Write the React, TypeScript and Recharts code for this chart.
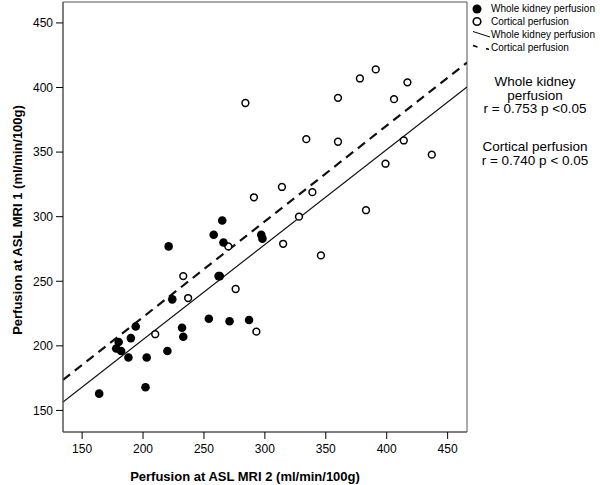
import React from 'react';
import { ScatterChart, Scatter, XAxis, YAxis, ReferenceLine, ReferenceArea } from 'recharts';

const wholeX = [164, 202, 188, 203, 220, 178, 182, 180, 190, 194, 233, 232, 254, 271, 287, 224, 262, 263, 221, 266, 258, 265, 297, 298];
const wholeY = [163, 168, 191, 191, 196, 198, 196, 203, 206, 215, 207, 214, 221, 219, 220, 236, 254, 254, 277, 280, 286, 297, 286, 283];

const cortX = [210, 293, 237, 276, 233, 270, 315, 346, 328, 383, 291, 314, 339, 334, 360, 399, 414, 437, 284, 360, 406, 378, 391, 417];
const cortY = [209, 211, 237, 244, 254, 277, 279, 270, 300, 305, 315, 323, 319, 360, 358, 341, 359, 348, 388, 392, 391, 407, 414, 404];

const ticks = [150, 200, 250, 300, 350, 400, 450];
const xDomain: [number, number] = [134.3, 465.9];
const yDomain: [number, number] = [133.3, 466.2];

// regression lines (slope, intercept)
const wholeFit = { slope: 0.7355, intercept: 57.8 };
const cortFit = { slope: 0.741, intercept: 74.1 };

const wholeData = wholeX.map((x, i) => ({ x, y: wholeY[i] }));
const cortData = cortX.map((x, i) => ({ x, y: cortY[i] }));

const font = 'Arial, "Liberation Sans", sans-serif';

const FilledDot = (p: any) => <circle cx={p.cx} cy={p.cy} r={4.3} fill="#000" />;
const OpenDot = (p: any) => <circle cx={p.cx} cy={p.cy} r={3.4} fill="#fff" stroke="#000" strokeWidth={1.5} />;

const fitSeg = (f: { slope: number; intercept: number }) => [
  { x: xDomain[0], y: f.intercept + f.slope * xDomain[0] },
  { x: xDomain[1], y: f.intercept + f.slope * xDomain[1] },
];

const XLabel = (p: any) => {
  const vb = p.viewBox;
  return (
    <text x={vb.x + vb.width / 2 - 20} y={476} textAnchor="middle" dominantBaseline="central" fontFamily={font} fontWeight="bold" fontSize={13} fill="#000">
      Perfusion at ASL MRI 2 (ml/min/100g)
    </text>
  );
};

const YLabel = () => {
  const cy = 220;
  return (
    <text x={17} y={cy} transform={`rotate(-90 17 ${cy})`} textAnchor="middle" dominantBaseline="central" fontFamily={font} fontWeight="bold" fontSize={13} fill="#000">
      Perfusion at ASL MRI 1 (ml/min/100g)
    </text>
  );
};

export default function App() {
  const legendText: React.CSSProperties = { position: 'absolute', left: 491, fontFamily: font, fontSize: 10, lineHeight: '12px', color: '#000', whiteSpace: 'nowrap' };
  const statLine: React.CSSProperties = { position: 'absolute', left: 470, width: 130, textAlign: 'center', fontFamily: font, fontSize: 13.5, lineHeight: '13px', color: '#000', whiteSpace: 'nowrap' };
  return (
    <div style={{ position: 'absolute', left: 0, top: 0, width: 600, height: 485, background: '#fff' }}>
      <ScatterChart width={600} height={485} margin={{ top: 2, right: 133, bottom: 0, left: 0 }}>
        <XAxis
          xAxisId="b"
          type="number"
          dataKey="x"
          domain={xDomain}
          ticks={ticks}
          allowDataOverflow
          height={53}
          tickSize={7}
          tickMargin={5}
          stroke="#555"
          tick={{ fill: '#000', fontSize: 12, fontFamily: font }}
          tickLine={{ stroke: '#000' }}
          label={<XLabel />}
        />
        <YAxis
          yAxisId="l"
          type="number"
          dataKey="y"
          domain={yDomain}
          ticks={ticks}
          allowDataOverflow
          width={63}
          tickSize={7}
          tickMargin={3}
          stroke="#555"
          tick={{ fill: '#000', fontSize: 12, fontFamily: font }}
          tickLine={{ stroke: '#000' }}
          label={<YLabel />}
        />
        <ReferenceArea xAxisId="b" yAxisId="l" x1={xDomain[0]} x2={xDomain[1]} y1={yDomain[0]} y2={yDomain[1]} fill="none" fillOpacity={0} stroke="#555" strokeWidth={1} ifOverflow="visible" />
        <ReferenceLine xAxisId="b" yAxisId="l" segment={fitSeg(cortFit)} stroke="#111" strokeWidth={2.2} strokeDasharray="9 6" ifOverflow="hidden" />
        <ReferenceLine xAxisId="b" yAxisId="l" segment={fitSeg(wholeFit)} stroke="#111" strokeWidth={1.2} ifOverflow="hidden" />
        <Scatter xAxisId="b" yAxisId="l" data={cortData} shape={<OpenDot />} isAnimationActive={false} />
        <Scatter xAxisId="b" yAxisId="l" data={wholeData} shape={<FilledDot />} isAnimationActive={false} />
      </ScatterChart>

      <svg width={600} height={485} style={{ position: 'absolute', left: 0, top: 0, pointerEvents: 'none' }}>
        <circle cx={477} cy={9} r={4.5} fill="#000" />
        <circle cx={477} cy={21.5} r={3.8} fill="#fff" stroke="#000" strokeWidth={1.6} />
        <line x1={473} y1={31.5} x2={490} y2={37} stroke="#000" strokeWidth={1} />
        <line x1={473} y1={45.5} x2={477.5} y2={47} stroke="#000" strokeWidth={1.4} />
        <line x1={486} y1={48.5} x2={489} y2={49.5} stroke="#000" strokeWidth={1.4} />
      </svg>

      <div style={{ ...legendText, top: 3 }}>Whole kidney perfusion</div>
      <div style={{ ...legendText, top: 15.5 }}>Cortical perfusion</div>
      <div style={{ ...legendText, top: 28.5 }}>Whole kidney perfusion</div>
      <div style={{ ...legendText, top: 41.5 }}>Cortical perfusion</div>

      <div style={{ ...statLine, top: 75 }}>Whole kidney</div>
      <div style={{ ...statLine, top: 88.5 }}>perfusion</div>
      <div style={{ ...statLine, top: 102 }}>r = 0.753 p &lt;0.05</div>
      <div style={{ ...statLine, top: 140 }}>Cortical perfusion</div>
      <div style={{ ...statLine, top: 153.5 }}>r = 0.740 p &lt; 0.05</div>
    </div>
  );
}
